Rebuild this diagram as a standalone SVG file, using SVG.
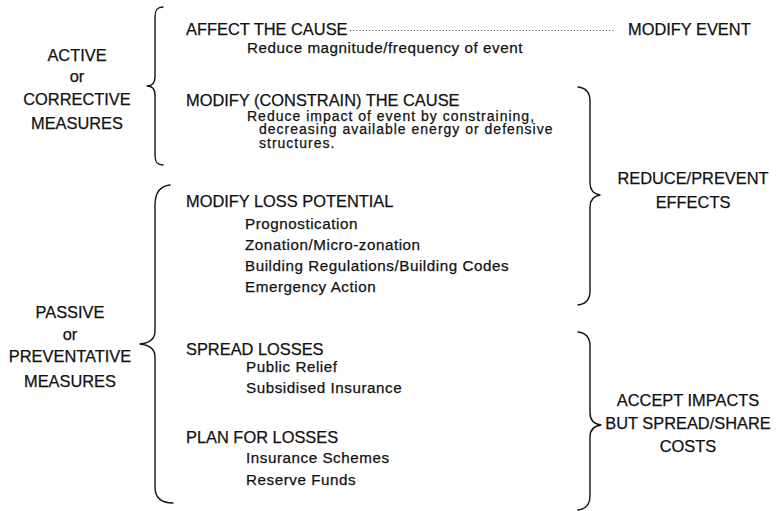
<svg xmlns="http://www.w3.org/2000/svg" width="782" height="511" viewBox="0 0 782 511">
  <style>
    text { font-family: "Liberation Sans", Arial, Helvetica, sans-serif; fill: #111; stroke: #111; stroke-width: 0.25px; }
    .head { font-size: 16.4px; }
    .sub { font-size: 15.2px; letter-spacing: 0.55px; }
    .tight { font-size: 14px; letter-spacing: 1px; }
    .side { font-size: 16.4px; text-anchor: middle; }
    .brace { fill: none; stroke: #111; stroke-width: 1.4; stroke-linecap: round; stroke-linejoin: round; }
    .dots { fill: none; stroke: #444; stroke-width: 1; stroke-dasharray: 1 2.2; }
  </style>
  <rect width="782" height="511" fill="#fff"/>

  <!-- braces and the dotted leader -->
  <g id="connectors">
    <!-- left brace: active measures -->
    <path class="brace" d="M163,7 C157,7 155,10 155,17 L155,77 C155,83 152,86 147,86 C152,86 155,89 155,95 L155,155 C155,162 157,165 163,165"/>
    <!-- left brace: passive measures -->
    <path class="brace" d="M170,185 C160,186 155,193 155,205 L155,331 C155,339 150,343 140,344 C150,345 155,349 155,357 L155,487 C155,498 161,503 173,503"/>
    <!-- right brace: reduce/prevent effects -->
    <path class="brace" d="M578,87 C586,88 590,93 590,101 L590,183 C590,190 594,194 600,195 C594,196 590,200 590,207 L590,291 C590,299 586,304 578,305"/>
    <!-- right brace: accept impacts -->
    <path class="brace" d="M578,332 C586,333 590,338 590,346 L590,413 C590,420 594,424 601,425 C594,426 590,430 590,437 L590,496 C590,504 586,509 578,510"/>
    <!-- dotted leader -->
    <line class="dots" x1="350" y1="30.5" x2="614" y2="30.5"/>
  </g>

  <g id="active-measures">
    <text class="side" x="77" y="61">ACTIVE</text>
    <text class="side" x="77" y="82">or</text>
    <text class="side" x="77" y="105">CORRECTIVE</text>
    <text class="side" x="77" y="129">MEASURES</text>
  </g>

  <g id="passive-measures">
    <text class="side" x="70" y="318">PASSIVE</text>
    <text class="side" x="70" y="340">or</text>
    <text class="side" x="70" y="362">PREVENTATIVE</text>
    <text class="side" x="70" y="387">MEASURES</text>
  </g>

  <g id="affect-cause">
    <text class="head" x="186" y="35">AFFECT THE CAUSE</text>
    <text class="sub" x="247" y="53">Reduce magnitude/frequency of event</text>
  </g>

  <g id="modify-cause">
    <text class="head" x="186" y="106">MODIFY (CONSTRAIN) THE CAUSE</text>
    <text class="tight" x="247" y="120.5">Reduce impact of event by constraining,</text>
    <text class="tight" x="259" y="134">decreasing available energy or defensive</text>
    <text class="tight" x="259" y="147.5">structures.</text>
  </g>

  <g id="modify-loss">
    <text class="head" x="186" y="207">MODIFY LOSS POTENTIAL</text>
    <text class="sub" x="245" y="229">Prognostication</text>
    <text class="sub" x="245" y="250">Zonation/Micro-zonation</text>
    <text class="sub" x="245" y="271">Building Regulations/Building Codes</text>
    <text class="sub" x="245" y="292">Emergency Action</text>
  </g>

  <g id="spread-losses">
    <text class="head" x="186" y="355">SPREAD LOSSES</text>
    <text class="sub" x="246" y="372">Public Relief</text>
    <text class="sub" x="246" y="393">Subsidised Insurance</text>
  </g>

  <g id="plan-losses">
    <text class="head" x="186" y="443">PLAN FOR LOSSES</text>
    <text class="sub" x="246" y="463">Insurance Schemes</text>
    <text class="sub" x="246" y="485">Reserve Funds</text>
  </g>

  <g id="modify-event">
    <text class="head" x="628" y="35">MODIFY EVENT</text>
  </g>

  <g id="reduce-effects">
    <text class="side" x="693" y="184">REDUCE/PREVENT</text>
    <text class="side" x="693" y="208">EFFECTS</text>
  </g>

  <g id="accept-impacts">
    <text class="side" x="688" y="406">ACCEPT IMPACTS</text>
    <text class="side" x="688" y="429">BUT SPREAD/SHARE</text>
    <text class="side" x="688" y="452">COSTS</text>
  </g>
</svg>
